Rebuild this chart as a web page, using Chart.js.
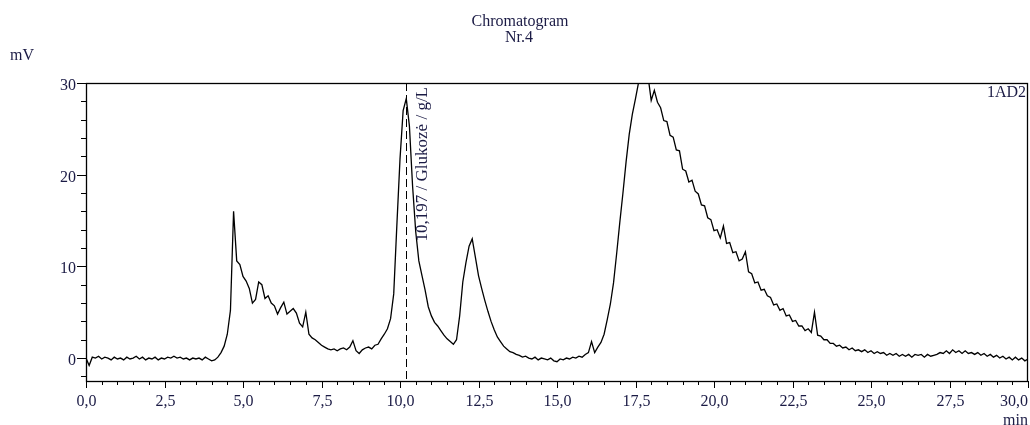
<!DOCTYPE html>
<html>
<head>
<meta charset="utf-8">
<script src="https://cdn.jsdelivr.net/npm/chart.js@4/dist/chart.umd.min.js"></script>
<style>
  html, body { margin: 0; padding: 0; background: #fff; }
  #chromatogram { display: block; }
</style>
</head>
<body>
<canvas id="chromatogram" width="1030" height="425"></canvas>
<script>
// detector signal (mV), one reading every 0.1 min from 0.0 to 30.0 min
const sampleStepMin = 0.1;
const signalMv = [
  0.0, -0.8, 0.1, 0.0, 0.2, -0.1, 0.1, 0.0, -0.2, 0.1,
  -0.1, 0.0, -0.2, 0.1, -0.1, 0.0, 0.2, -0.1, 0.1, -0.2,
  0.0, -0.1, 0.1, -0.2, 0.0, -0.1, 0.1, 0.0, 0.2, 0.0,
  0.1, -0.1, 0.0, -0.2, 0.0, -0.1, 0.0, -0.2, 0.1, -0.1,
  -0.3, -0.2, 0.1, 0.6, 1.3, 2.6, 5.2, 16.0, 10.6, 10.2,
  8.9, 8.4, 7.6, 6.0, 6.4, 8.3, 8.0, 6.5, 6.8, 6.0,
  5.7, 4.8, 5.5, 6.1, 4.8, 5.1, 5.4, 4.9, 3.8, 3.4,
  5.0, 2.6, 2.2, 2.0, 1.7, 1.4, 1.2, 1.0, 0.9, 1.0,
  0.8, 1.0, 1.1, 0.9, 1.2, 1.9, 0.8, 0.5, 0.9, 1.1,
  1.2, 1.0, 1.4, 1.5, 2.1, 2.6, 3.2, 4.3, 7.0, 14.5,
  21.7, 27.0, 28.3, 25.3, 18.8, 13.8, 10.6, 9.0, 7.4, 5.6,
  4.6, 3.9, 3.5, 3.0, 2.5, 2.1, 1.8, 1.5, 2.0, 4.6,
  8.3, 10.4, 12.2, 13.0, 11.0, 9.0, 7.6, 6.3, 5.1, 4.0,
  3.1, 2.3, 1.8, 1.3, 1.0, 0.7, 0.6, 0.4, 0.3, 0.1,
  0.2, 0.0, -0.1, 0.1, -0.2, 0.0, -0.1, -0.2, 0.0, -0.3,
  -0.4, -0.1, -0.2, 0.0, -0.1, 0.1, 0.0, 0.2, 0.1, 0.4,
  0.6, 1.8, 0.6, 1.2, 1.7, 2.6, 4.2, 5.9, 8.2, 11.4,
  14.8, 18.0, 21.4, 24.4, 26.6, 28.3, 30.1, 31.3, 31.6, 30.7,
  28.1, 29.2, 27.9, 27.3, 25.9, 25.8, 24.3, 24.1, 22.7, 22.6,
  20.6, 20.4, 19.2, 19.4, 18.2, 17.9, 16.7, 16.6, 15.3, 15.1,
  13.9, 14.0, 13.1, 14.4, 12.5, 12.6, 11.5, 11.6, 10.6, 10.8,
  11.6, 9.4, 9.2, 8.2, 8.3, 7.4, 7.5, 6.8, 6.6, 5.8,
  5.9, 5.2, 5.4, 4.6, 4.7, 4.0, 4.1, 3.5, 3.5, 3.0,
  3.2, 2.8, 5.0, 2.5, 2.4, 2.0, 2.0, 1.6, 1.6, 1.3,
  1.4, 1.1, 1.2, 0.9, 1.1, 0.8, 0.9, 0.7, 0.9, 0.6,
  0.8, 0.5, 0.7, 0.5, 0.6, 0.3, 0.5, 0.3, 0.5, 0.2,
  0.4, 0.2, 0.4, 0.1, 0.4, 0.3, 0.4, 0.1, 0.4, 0.2,
  0.3, 0.4, 0.6, 0.5, 0.8, 0.5, 0.9, 0.6, 0.8, 0.5,
  0.8, 0.5, 0.6, 0.4, 0.6, 0.3, 0.5, 0.2, 0.4, 0.1,
  0.3, 0.0, 0.2, -0.1, 0.1, -0.2, 0.1, -0.2, 0.0, -0.3,
  -0.1,
];

// marked peak
const peakTimeMin = 10.197;
const peakLabel = "10,197 / Glukozė / g/L";

// axis setup
const xRange = [0, 30];
const xMinorStep = 0.5;
const xMajorStep = 2.5;
const yRange = [-2.5, 30];
const yMinorStep = 2;
const yMajorStep = 10;

const titleLines = ["Chromatogram", "Nr.4"];
const yUnit = "mV";
const xUnit = "min";
const channelName = "1AD2";

const textColor = "#1b1b45";
const serif = "'Liberation Serif', 'Times New Roman', serif";

function isMultiple(value, step) {
  const q = value / step;
  return Math.abs(q - Math.round(q)) < 1e-6;
}

const chromatogramDecor = {
  id: "chromatogramDecor",
  afterDatasetsDraw(chart) {
    const { ctx, chartArea } = chart;
    const { left, right, top, bottom } = chartArea;
    const xScale = chart.scales.x;
    const yScale = chart.scales.y;

    ctx.save();

    // frame
    ctx.strokeStyle = "#000";
    ctx.lineWidth = 1.3;
    ctx.strokeRect(left + 0.5, top + 0.5, right - left - 1, bottom - top);

    ctx.lineWidth = 1;
    ctx.font = `16px ${serif}`;
    ctx.fillStyle = textColor;

    // x ticks + labels
    xScale.ticks.forEach((tick) => {
      const px = Math.round(xScale.getPixelForValue(tick.value)) + 0.5;
      const major = isMultiple(tick.value, xMajorStep);
      ctx.beginPath();
      ctx.moveTo(px, bottom);
      ctx.lineTo(px, bottom + (major ? 7 : 4));
      ctx.stroke();
      if (major) {
        const isLast = Math.abs(tick.value - xRange[1]) < 1e-6;
        ctx.textAlign = isLast ? "right" : "center";
        ctx.textBaseline = "alphabetic";
        const text = tick.value.toFixed(1).replace(".", ",");
        ctx.fillText(text, isLast ? right : px, 406);
      }
    });

    // y ticks + labels
    yScale.ticks.forEach((tick) => {
      const py = Math.round(yScale.getPixelForValue(tick.value)) + 0.5;
      const major = isMultiple(tick.value, yMajorStep);
      ctx.beginPath();
      ctx.moveTo(left, py);
      ctx.lineTo(left - (major ? 9 : 5), py);
      ctx.stroke();
      if (major) {
        ctx.textAlign = "right";
        ctx.textBaseline = "alphabetic";
        ctx.fillText(String(tick.value), left - 10, py + 6);
      }
    });

    // titles and units
    ctx.textAlign = "center";
    ctx.fillText(titleLines[0], 520, 26);
    ctx.fillText(titleLines[1], 519, 42);
    ctx.textAlign = "left";
    ctx.fillText(yUnit, 10, 60);
    ctx.textAlign = "right";
    ctx.fillText(xUnit, right, 425);
    ctx.fillText(channelName, right - 2, 97);

    // peak marker
    const peakX = Math.round(xScale.getPixelForValue(peakTimeMin)) + 0.5;
    ctx.strokeStyle = "#000";
    ctx.setLineDash([8, 4]);
    ctx.beginPath();
    ctx.moveTo(peakX, top);
    ctx.lineTo(peakX, bottom);
    ctx.stroke();
    ctx.setLineDash([]);

    ctx.font = `17px ${serif}`;
    ctx.translate(peakX + 20, top + 4);
    ctx.rotate(-Math.PI / 2);
    ctx.textAlign = "right";
    ctx.textBaseline = "alphabetic";
    ctx.fillText(peakLabel, 0, 0);

    ctx.restore();
  },
};

function createChromatogram() {
  const canvas = document.getElementById("chromatogram");
  if (!canvas) {
    return;
  }

  const points = signalMv.map((value, i) => ({
    x: Number((i * sampleStepMin).toFixed(1)),
    y: value,
  }));

  new Chart(canvas, {
    type: "line",
    data: {
      datasets: [
        {
          label: "1AD2",
          data: points,
          borderColor: "#000",
          borderWidth: 1.3,
          pointRadius: 0,
          tension: 0,
          fill: false,
        },
      ],
    },
    options: {
      responsive: false,
      animation: false,
      devicePixelRatio: 1,
      layout: {
        padding: { left: 86, right: 2, top: 83, bottom: 44 },
      },
      scales: {
        x: {
          type: "linear",
          display: false,
          min: xRange[0],
          max: xRange[1],
          ticks: { stepSize: xMinorStep, autoSkip: false },
        },
        y: {
          type: "linear",
          display: false,
          min: yRange[0],
          max: yRange[1],
          ticks: { stepSize: yMinorStep, includeBounds: false, autoSkip: false },
        },
      },
      plugins: {
        legend: { display: false },
        tooltip: { enabled: false },
        title: { display: false },
      },
    },
    plugins: [chromatogramDecor],
  });
}

window.addEventListener("DOMContentLoaded", createChromatogram);
</script>
</body>
</html>
